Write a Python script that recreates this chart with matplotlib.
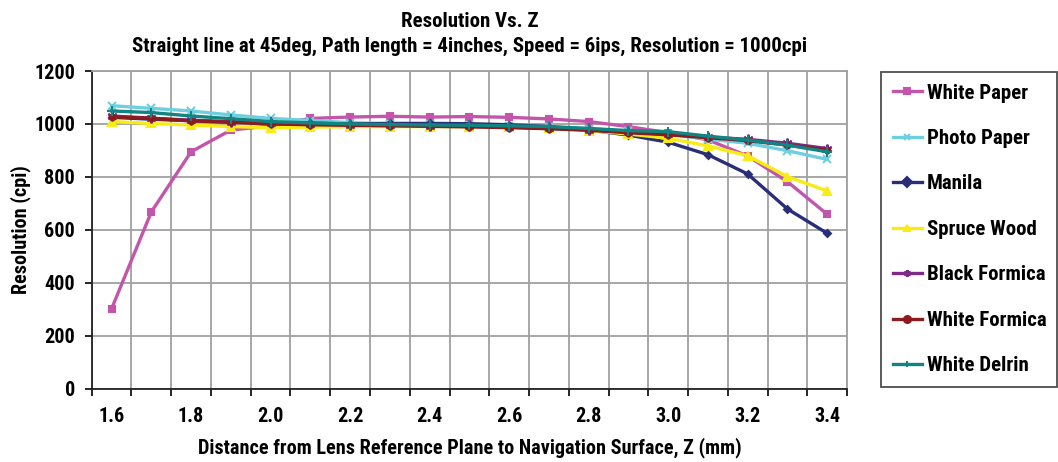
import matplotlib
matplotlib.use('Agg')
import matplotlib.pyplot as plt
import numpy as np

plt.rcParams['font.family'] = ['Roboto Condensed', 'DejaVu Sans']
plt.rcParams['font.weight'] = 'bold'

z = ['1.6', '1.7', '1.8', '1.9', '2.0', '2.1', '2.2', '2.3', '2.4', '2.5',
     '2.6', '2.7', '2.8', '2.9', '3.0', '3.1', '3.2', '3.3', '3.4']

white_paper = [302, 668, 895, 977, 993, 1021, 1026, 1029, 1026, 1028,
               1025, 1019, 1009, 990, 967, 940, 879, 782, 659]
photo_paper = [1069, 1059, 1049, 1034, 1021, 1013, 1005, 1001, 998, 996,
               993, 990, 982, 972, 961, 943, 927, 899, 866]
manila = [1025, 1018, 1012, 1008, 1004, 1003, 1000, 1002, 1002, 1001,
          997, 990, 977, 958, 931, 884, 811, 679, 587]
spruce_wood = [1009, 1002, 996, 990, 986, 988, 990, 990, 990, 990,
               988, 985, 975, 962, 946, 917, 880, 801, 747]
black_formica = [1030, 1022, 1014, 1008, 1002, 999, 997, 995, 993, 991,
                 988, 984, 978, 969, 961, 950, 942, 927, 907]
white_formica = [1027, 1021, 1012, 1006, 1000, 997, 995, 993, 991, 989,
                 986, 982, 976, 967, 959, 948, 937, 920, 902]
white_delrin = [1049, 1043, 1030, 1020, 1009, 1004, 1000, 998, 996, 995,
                993, 990, 983, 975, 971, 954, 939, 920, 895]

series = [
    ('White Paper', white_paper, '#C256AA', 's', 5),
    ('Photo Paper', photo_paper, '#6FCFDF', 'x', 6),
    ('Manila', manila, '#2A2D78', 'D', 3.5),
    ('Spruce Wood', spruce_wood, '#F7EC13', '^', 6),
    ('Black Formica', black_formica, '#7D2B86', (6, 2, 0), 7),
    ('White Formica', white_formica, '#8A1C1E', 'o', 4),
    ('White Delrin', white_delrin, '#128482', '+', 7),
]

fig = plt.figure(figsize=(10.58, 4.62), dpi=100)
ax = fig.add_axes([0.0867, 0.1587, 0.7139, 0.6876])

x = np.arange(len(z))
for name, vals, col, mk, ms in series:
    ax.plot(x, vals, color=col, lw=2.4, marker=mk, ms=ms, mew=1.5,
            mfc=col, mec=col, label=name)

ax.set_xlim(-0.5, len(z) - 0.5)
ax.set_ylim(0, 1200)
ax.set_yticks(np.arange(0, 1201, 200))
ax.set_xticks(x[::2])
ax.set_xticklabels(z[::2])
ax.set_xticks(np.arange(-0.5, len(z), 1), minor=True)
ax.tick_params(axis='x', which='major', length=0, labelsize=14.5, pad=13)
ax.tick_params(axis='x', which='minor', length=5, direction='out', width=1.2)
ax.tick_params(axis='y', length=5, width=1.2, labelsize=14.5, pad=7)
ax.grid(True, which='minor', axis='x', color='#A0A0A0', lw=1.3)
ax.grid(True, which='major', axis='y', color='#A0A0A0', lw=1.3)
ax.set_axisbelow(True)
for s in ['top', 'right']:
    ax.spines[s].set_color('#A0A0A0')
    ax.spines[s].set_linewidth(1.3)
for s in ['left', 'bottom']:
    ax.spines[s].set_color('#222222')
    ax.spines[s].set_linewidth(1.3)

ax.set_xlabel('Distance from Lens Reference Plane to Navigation Surface, Z (mm)',
              fontsize=14.6, fontweight='bold', labelpad=8)
ax.set_ylabel('Resolution (cpi)', fontsize=14.5, fontweight='bold', labelpad=2)
ax.set_title('Resolution Vs. Z\nStraight line at 45deg, Path length = 4inches, '
             'Speed = 6ips, Resolution = 1000cpi',
             fontsize=15, fontweight='bold', pad=14, linespacing=1.35)

leg = fig.legend(loc='upper left', bbox_to_anchor=(0.833, 0.844, 0.166, 0.0),
                 mode='expand', fontsize=15, frameon=True, fancybox=False,
                 edgecolor='#222222', labelspacing=1.27, handlelength=1.4,
                 handletextpad=0.25, borderpad=0.55, borderaxespad=0)
leg.get_frame().set_linewidth(1.3)
for h in leg.legend_handles:
    h.set_markersize(5)

fig.savefig('out.png', dpi=100)
